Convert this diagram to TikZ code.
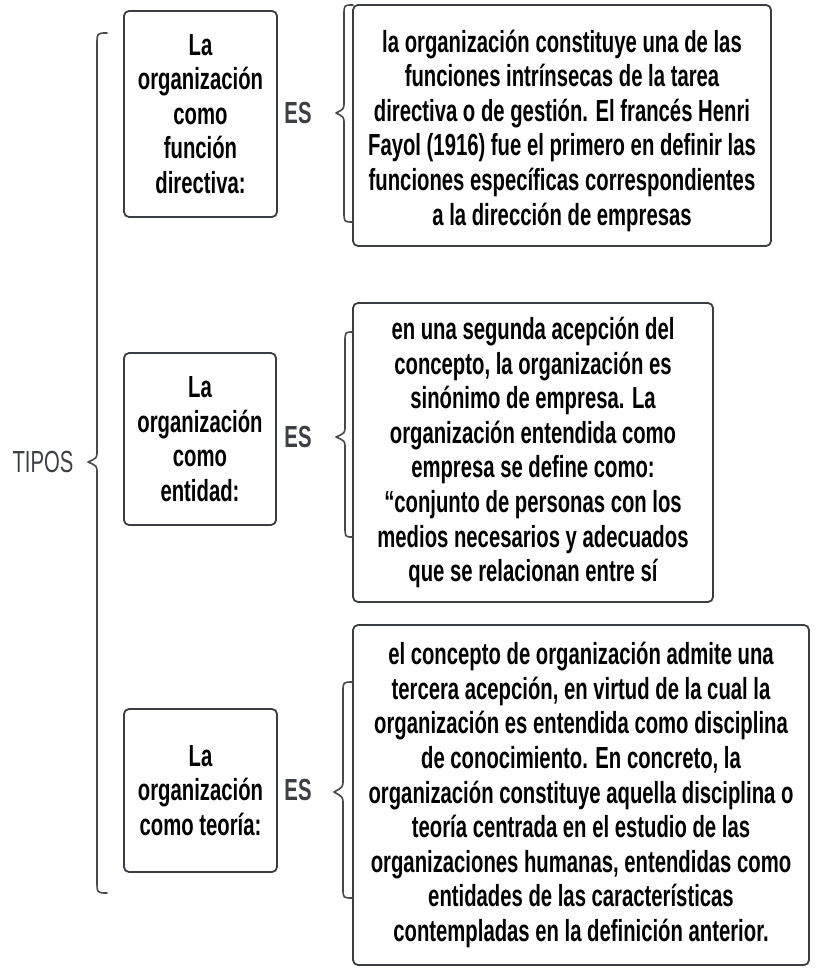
\documentclass[tikz,border=0pt]{standalone}
\usepackage{fontspec}
\setmainfont{Liberation Sans}[FakeStretch=0.665]
\definecolor{boxline}{HTML}{3A3D42}
\definecolor{bracecol}{HTML}{45484D}
\definecolor{labelgray}{HTML}{3C3F44}
\tikzset{
  cbox/.style={draw=boxline, line width=1.8pt, rounded corners=5pt, inner sep=0pt,
    align=center, font=\fontsize{30.5}{34.6}\selectfont\bfseries, text=black},
  boxtext/.style={inner sep=0pt, align=center, font=\fontsize{30.5}{34.6}\selectfont\bfseries, text=black},
  eslabel/.style={font=\fontsize{30.5}{34.6}\selectfont\bfseries, text=labelgray, inner sep=0pt},
  bracestyle/.style={draw=bracecol, line width=1.6pt, line cap=round, line join=round}
}
\begin{document}
\begin{tikzpicture}[x=1pt,y=-1pt]
\useasboundingbox (0,0) rectangle (817,968);

% TIPOS and big brace
\node[font=\fontsize{30.5}{34.6}\selectfont, text=labelgray, inner sep=0pt] (tipos) at (43,462) {TIPOS};
\coordinate (bT) at (107,33);
\coordinate (bB) at (107,893);
\draw[bracestyle] (bT) .. controls (97,33) .. (97,45) -- (97,451)
  .. controls (97,458) .. (88,462) .. controls (97,466) .. (97,473)
  -- (97,881) .. controls (97,893) .. (bB);

% Row 1
\node[cbox, minimum width=153, minimum height=206] (l1) at (200.5,114)
  {La\\organización\\como\\función\\directiva:};
\node[eslabel] (es1) at (298,113) {ES};
\node[cbox, minimum width=418, minimum height=241] (d1) at (562,125.5) {};
\node[boxtext] (t1) at ([yshift=-5pt]d1.center)
  {la organización constituye una de las\\funciones intrínsecas de la tarea\\directiva o de gestión. El francés Henri\\Fayol (1916) fue el primero en definir las\\funciones específicas correspondientes\\a la dirección de empresas};
\draw[bracestyle] (353,5) .. controls (344,5) .. (344,15) -- (344,102)
  .. controls (344,109) .. (336,113) .. controls (344,117) .. (344,124)
  -- (344,212) .. controls (344,222) .. (353,222);

% Row 2
\node[cbox, minimum width=152, minimum height=172] (l2) at (200,439)
  {La\\organización\\como\\entidad:};
\node[eslabel] (es2) at (298,437) {ES};
\node[cbox, minimum width=360, minimum height=299] (d2) at (533,452.5)
  {en una segunda acepción del\\concepto, la organización es\\sinónimo de empresa. La\\organización entendida como\\empresa se define como:\\“conjunto de personas con los\\medios necesarios y adecuados\\que se relacionan entre sí};
\draw[bracestyle] (353,332) .. controls (345,332) .. (345,342) -- (345,426)
  .. controls (345,433) .. (336,437) .. controls (345,441) .. (345,448)
  -- (345,527) .. controls (345,537) .. (353,537);

% Row 3
\node[cbox, minimum width=153, minimum height=163] (l3) at (200.5,790.5)
  {La\\organización\\como teoría:};
\node[eslabel] (es3) at (298,790) {ES};
\node[cbox, minimum width=456, minimum height=340] (d3) at (581,795)
  {el concepto de organización admite una\\tercera acepción, en virtud de la cual la\\organización es entendida como disciplina\\de conocimiento. En concreto, la\\organización constituye aquella disciplina o\\teoría centrada en el estudio de las\\organizaciones humanas, entendidas como\\entidades de las características\\contempladas en la definición anterior.};
\draw[bracestyle] (353,682) .. controls (343,682) .. (343,692) -- (343,780)
  .. controls (343,787) .. (334,792) .. controls (343,797) .. (343,804)
  -- (343,888) .. controls (343,898) .. (353,898);
\end{tikzpicture}
\end{document}
